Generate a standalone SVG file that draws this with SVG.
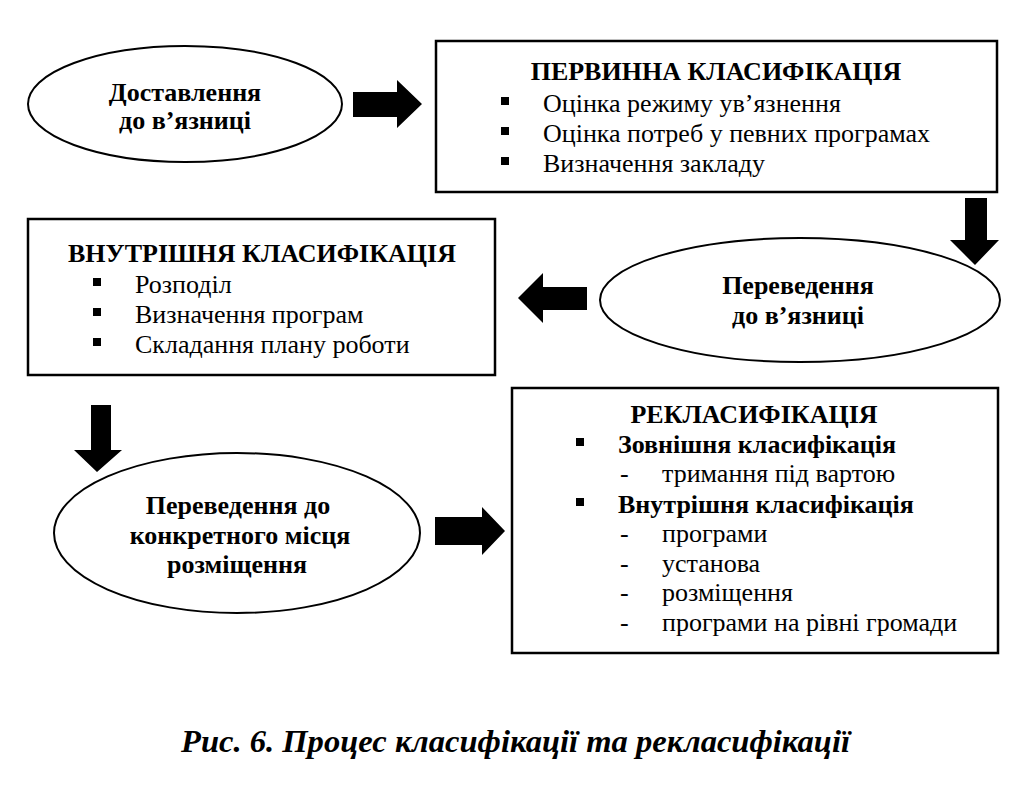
<svg xmlns="http://www.w3.org/2000/svg" width="1024" height="797" viewBox="0 0 1024 797" font-family="Liberation Serif, Times New Roman, serif">
<style>
  .box { fill: #fff; stroke: #000; stroke-width: 2.5; }
  .ell { fill: #fff; stroke: #000; stroke-width: 2; }
  .arr { fill: #000; }
  text { font-family: Liberation Serif, Times New Roman, serif; font-size: 26px; fill: #000; }
  .b { font-weight: bold; }
  .c { text-anchor: middle; }
  .cap { font-weight: bold; font-style: italic; font-size: 32px; }
</style>
<rect width="1024" height="797" fill="#fff"/>

<g id="connectors">
  <polygon class="arr" points="353,92 397,92 397,80 422,104 397,128 397,117 353,117"/>
  <polygon class="arr" points="965,198 987,198 987,240 999,240 975,265 950,240 965,240"/>
  <polygon class="arr" points="587,287 543,287 543,273 518,298 543,323 543,310 587,310"/>
  <polygon class="arr" points="91,405 111,405 111,450 122,450 97,472 74,450 91,450"/>
  <polygon class="arr" points="435,517 482,517 482,507 505,531 482,555 482,545 435,545"/>
</g>

<g id="n1">
  <ellipse class="ell" cx="185" cy="104" rx="157" ry="58"/>
  <text class="b c" x="185" y="101">Доставлення</text>
  <text class="b c" x="185" y="129">до в’язниці</text>
</g>

<g id="n2">
  <rect class="box" x="436" y="41" width="561" height="151"/>
  <text class="b c" x="716" y="80">ПЕРВИННА КЛАСИФІКАЦІЯ</text>
  <rect x="501" y="97" width="8" height="8"/>
  <text x="543" y="112">Оцінка режиму ув’язнення</text>
  <rect x="501" y="127" width="8" height="8"/>
  <text x="543" y="142">Оцінка потреб у певних програмах</text>
  <rect x="501" y="157" width="8" height="8"/>
  <text x="543" y="172">Визначення закладу</text>
</g>

<g id="n3">
  <ellipse class="ell" cx="800" cy="300" rx="200" ry="62"/>
  <text class="b c" x="798" y="294">Переведення</text>
  <text class="b c" x="798" y="324">до в’язниці</text>
</g>

<g id="n4">
  <rect class="box" x="28" y="219" width="467" height="156"/>
  <text class="b c" x="262" y="262">ВНУТРІШНЯ КЛАСИФІКАЦІЯ</text>
  <rect x="93" y="278" width="8" height="8"/>
  <text x="135" y="293">Розподіл</text>
  <rect x="93" y="308" width="8" height="8"/>
  <text x="135" y="323">Визначення програм</text>
  <rect x="93" y="338" width="8" height="8"/>
  <text x="135" y="353">Складання плану роботи</text>
</g>

<g id="n5">
  <ellipse class="ell" cx="237" cy="533" rx="183" ry="80"/>
  <text class="b c" x="238" y="514">Переведення до</text>
  <text class="b c" x="240" y="544">конкретного місця</text>
  <text class="b c" x="237" y="573">розміщення</text>
</g>

<g id="n6">
  <rect class="box" x="512" y="388" width="486" height="265"/>
  <text class="b c" x="754" y="423">РЕКЛАСИФІКАЦІЯ</text>
  <rect x="576" y="438" width="8" height="8"/>
  <text class="b" x="618" y="453">Зовнішня класифікація</text>
  <text x="620" y="482">-</text>
  <text x="662" y="482">тримання під вартою</text>
  <rect x="576" y="498" width="8" height="8"/>
  <text class="b" x="618" y="513">Внутрішня класифікація</text>
  <text x="620" y="542">-</text>
  <text x="662" y="542">програми</text>
  <text x="620" y="572">-</text>
  <text x="662" y="572">установа</text>
  <text x="620" y="601">-</text>
  <text x="662" y="601">розміщення</text>
  <text x="620" y="631">-</text>
  <text x="662" y="631">програми на рівні громади</text>
</g>

<text class="cap" x="181" y="752" textLength="669" lengthAdjust="spacingAndGlyphs">Рис. 6. Процес класифікації та рекласифікації</text>
</svg>
